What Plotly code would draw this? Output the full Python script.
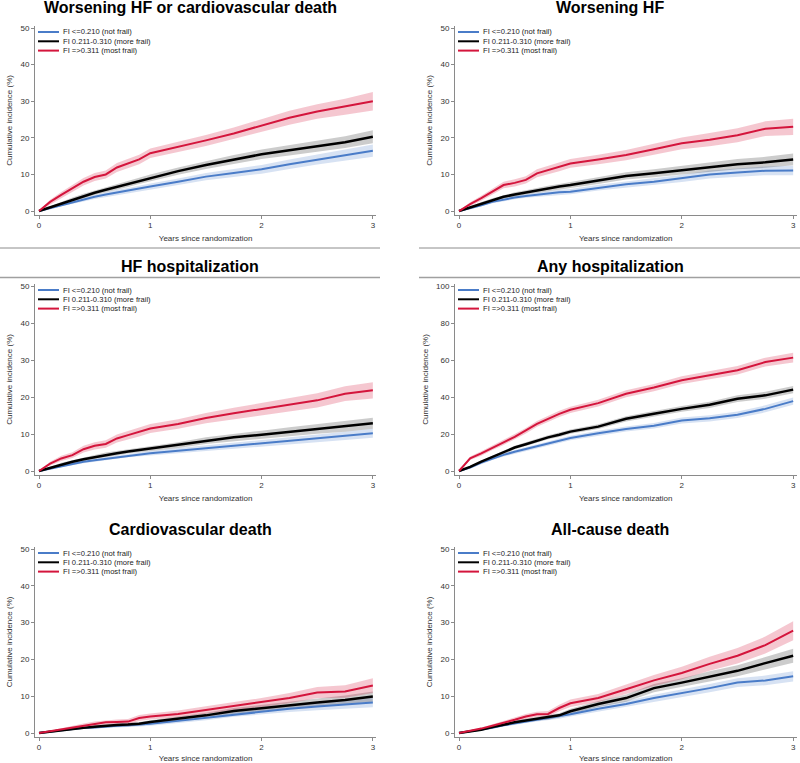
import plotly.graph_objects as go

# ---------------- data ----------------
years = [0, 0.1, 0.2, 0.3, 0.4, 0.5, 0.6, 0.7, 0.8, 0.9, 1.0,
         1.25, 1.5, 1.75, 2.0, 2.25, 2.5, 2.75, 3.0]
x_ticks = [0, 1, 2, 3]
y_ticks_50 = [0, 10, 20, 30, 40, 50]
y_ticks_100 = [0, 20, 40, 60, 80, 100]
group_labels = ["FI <=0.210 (not frail)", "FI 0.211-0.310 (more frail)", "FI =>0.311 (most frail)"]
panel_titles = ["Worsening HF or cardiovascular death", "Worsening HF", "HF hospitalization",
                "Any hospitalization", "Cardiovascular death", "All-cause death"]
x_title = "Years since randomization"
y_title = "Cumulative incidence (%)"

# Worsening HF or CV death
whfcvd_not = [0, 0.8, 1.6, 2.4, 3.1, 3.9, 4.5, 5.1, 5.6, 6.2, 6.7, 8.0, 9.4, 10.4, 11.4, 12.8, 14.1, 15.3, 16.5]
whfcvd_more = [0, 1.0, 2.1, 3.2, 4.1, 5.0, 5.8, 6.6, 7.4, 8.2, 9.1, 10.9, 12.6, 14.1, 15.5, 16.6, 17.6, 18.8, 20.3]
whfcvd_most = [0, 2.5, 4.4, 6.2, 8.0, 9.3, 10.0, 11.9, 13.0, 14.1, 15.8, 17.5, 19.3, 21.2, 23.3, 25.5, 27.2, 28.5, 30.0]
whfcvd_not_ci = [0, 0.3, 0.4, 0.5, 0.5, 0.6, 0.6, 0.7, 0.7, 0.8, 0.8, 0.9, 1.0, 1.1, 1.2, 1.3, 1.4, 1.5, 1.7]
whfcvd_more_ci = [0, 0.3, 0.4, 0.5, 0.6, 0.6, 0.7, 0.7, 0.8, 0.8, 0.9, 1.0, 1.1, 1.2, 1.3, 1.4, 1.5, 1.6, 1.8]
whfcvd_most_ci = [0, 0.6, 0.8, 0.9, 1.0, 1.1, 1.1, 1.2, 1.2, 1.3, 1.3, 1.4, 1.5, 1.6, 1.7, 1.9, 2.0, 2.2, 2.5]

# Worsening HF
whf_not = [0, 0.7, 1.6, 2.5, 3.2, 3.7, 4.1, 4.5, 4.8, 5.1, 5.3, 6.4, 7.3, 8.0, 8.9, 10.0, 10.5, 11.0, 11.1]
whf_more = [0, 1.0, 2.1, 3.0, 3.9, 4.5, 5.1, 5.7, 6.2, 6.7, 7.1, 8.3, 9.6, 10.3, 11.2, 12.1, 12.8, 13.3, 14.1]
whf_most = [0, 1.9, 3.5, 5.3, 7.1, 7.7, 8.5, 10.3, 11.2, 12.1, 13.0, 14.1, 15.3, 16.9, 18.5, 19.5, 20.7, 22.5, 23.0]
whf_not_ci = [0, 0.2, 0.3, 0.4, 0.5, 0.5, 0.5, 0.6, 0.6, 0.7, 0.7, 0.8, 0.8, 0.9, 1.0, 1.1, 1.2, 1.2, 1.3]
whf_more_ci = [0, 0.3, 0.4, 0.5, 0.5, 0.6, 0.6, 0.7, 0.7, 0.7, 0.8, 0.9, 1.0, 1.1, 1.2, 1.3, 1.4, 1.5, 1.6]
whf_most_ci = [0, 0.5, 0.7, 0.8, 0.9, 1.0, 1.0, 1.1, 1.1, 1.2, 1.2, 1.3, 1.4, 1.5, 1.6, 1.8, 1.9, 2.0, 2.2]

# HF hospitalization
hfh_not = [0, 0.6, 1.4, 2.0, 2.5, 2.9, 3.3, 3.8, 4.2, 4.5, 4.8, 5.5, 6.2, 6.8, 7.5, 8.2, 8.8, 9.5, 10.2]
hfh_more = [0, 0.9, 1.8, 2.5, 3.2, 3.8, 4.4, 4.8, 5.3, 5.7, 6.1, 7.0, 8.2, 9.1, 9.8, 10.6, 11.4, 12.0, 12.9]
hfh_most = [0, 2.0, 3.4, 4.3, 5.9, 6.8, 7.3, 8.8, 9.7, 10.5, 11.5, 12.7, 14.3, 15.6, 16.8, 17.9, 19.1, 20.9, 21.8]
hfh_not_ci = [0, 0.2, 0.3, 0.4, 0.4, 0.4, 0.5, 0.5, 0.5, 0.6, 0.6, 0.7, 0.7, 0.8, 0.9, 1.0, 1.0, 1.1, 1.2]
hfh_more_ci = [0, 0.3, 0.4, 0.4, 0.5, 0.5, 0.6, 0.6, 0.6, 0.7, 0.7, 0.8, 0.9, 1.0, 1.1, 1.2, 1.3, 1.4, 1.5]
hfh_most_ci = [0, 0.5, 0.7, 0.8, 0.9, 1.0, 1.0, 1.1, 1.1, 1.2, 1.2, 1.3, 1.4, 1.5, 1.6, 1.8, 1.9, 2.0, 2.2]

# Any hospitalization
anyh_not = [0, 1.8, 4.5, 6.7, 8.7, 10.4, 11.8, 13.3, 14.9, 16.4, 17.8, 20.4, 22.7, 24.5, 27.3, 28.5, 30.4, 33.6, 37.8]
anyh_more = [0, 2.2, 5.1, 7.6, 10.0, 12.7, 14.5, 16.4, 18.2, 19.6, 21.3, 24.0, 28.2, 30.9, 33.6, 35.8, 39.1, 40.9, 44.0]
anyh_most = [0, 6.9, 9.5, 12.7, 15.5, 18.5, 21.8, 25.5, 28.2, 30.9, 33.1, 36.7, 41.8, 45.1, 49.1, 51.8, 54.5, 58.9, 61.3]
anyh_not_ci = [0, 0.5, 0.7, 0.8, 0.9, 1.0, 1.0, 1.1, 1.1, 1.2, 1.2, 1.3, 1.4, 1.5, 1.6, 1.7, 1.8, 1.9, 2.0]
anyh_more_ci = [0, 0.5, 0.7, 0.8, 0.9, 1.0, 1.0, 1.1, 1.1, 1.2, 1.2, 1.3, 1.4, 1.5, 1.6, 1.7, 1.8, 1.9, 2.0]
anyh_most_ci = [0, 1.0, 1.2, 1.3, 1.4, 1.5, 1.5, 1.6, 1.6, 1.7, 1.7, 1.8, 1.9, 2.0, 2.1, 2.2, 2.3, 2.4, 2.6]

# Cardiovascular death
cvd_not = [0, 0.4, 0.7, 1.1, 1.4, 1.5, 1.8, 2.0, 2.1, 2.3, 2.5, 3.3, 4.1, 5.1, 5.9, 6.6, 7.2, 7.8, 8.3]
cvd_more = [0, 0.4, 0.8, 1.2, 1.4, 1.7, 2.0, 2.2, 2.3, 2.5, 3.0, 3.8, 4.8, 6.0, 6.8, 7.7, 8.3, 9.0, 9.9]
cvd_most = [0, 0.5, 0.9, 1.5, 2.1, 2.5, 2.9, 3.0, 3.1, 4.1, 4.5, 5.2, 6.3, 7.2, 8.3, 9.5, 11.0, 11.3, 12.9]
cvd_not_ci = [0, 0.1, 0.2, 0.3, 0.3, 0.3, 0.4, 0.4, 0.4, 0.5, 0.5, 0.6, 0.6, 0.7, 0.8, 0.9, 1.0, 1.1, 1.3]
cvd_more_ci = [0, 0.1, 0.2, 0.3, 0.3, 0.4, 0.4, 0.4, 0.5, 0.5, 0.5, 0.6, 0.7, 0.8, 0.9, 1.0, 1.1, 1.2, 1.4]
cvd_most_ci = [0, 0.2, 0.3, 0.4, 0.5, 0.6, 0.6, 0.7, 0.7, 0.8, 0.8, 0.9, 1.0, 1.1, 1.2, 1.4, 1.5, 1.7, 2.0]

# All-cause death
acd_not = [0, 0.4, 0.8, 1.4, 2.1, 2.6, 3.2, 3.6, 4.1, 4.5, 5.1, 6.6, 7.9, 9.5, 10.8, 12.2, 13.7, 14.3, 15.4]
acd_more = [0, 0.4, 0.9, 1.6, 2.3, 2.9, 3.4, 3.9, 4.2, 4.8, 5.9, 7.9, 9.5, 12.2, 13.7, 15.4, 16.9, 19.0, 21.0]
acd_most = [0, 0.5, 1.2, 2.0, 2.7, 3.6, 4.5, 5.1, 5.2, 6.8, 8.1, 9.5, 11.9, 14.3, 16.3, 18.8, 21.0, 23.9, 27.8]
acd_not_ci = [0, 0.1, 0.2, 0.3, 0.4, 0.4, 0.5, 0.5, 0.5, 0.6, 0.6, 0.7, 0.8, 0.9, 1.0, 1.1, 1.2, 1.3, 1.4]
acd_more_ci = [0, 0.1, 0.2, 0.3, 0.4, 0.4, 0.5, 0.5, 0.6, 0.6, 0.7, 0.8, 1.0, 1.1, 1.2, 1.4, 1.5, 1.7, 1.9]
acd_most_ci = [0, 0.2, 0.3, 0.4, 0.5, 0.6, 0.7, 0.7, 0.8, 0.9, 1.0, 1.1, 1.3, 1.5, 1.7, 1.9, 2.1, 2.3, 2.6]

panels = [
    dict(title=panel_titles[0], est=[whfcvd_not, whfcvd_more, whfcvd_most],
         ci=[whfcvd_not_ci, whfcvd_more_ci, whfcvd_most_ci], yticks=y_ticks_50),
    dict(title=panel_titles[1], est=[whf_not, whf_more, whf_most],
         ci=[whf_not_ci, whf_more_ci, whf_most_ci], yticks=y_ticks_50),
    dict(title=panel_titles[2], est=[hfh_not, hfh_more, hfh_most],
         ci=[hfh_not_ci, hfh_more_ci, hfh_most_ci], yticks=y_ticks_50),
    dict(title=panel_titles[3], est=[anyh_not, anyh_more, anyh_most],
         ci=[anyh_not_ci, anyh_more_ci, anyh_most_ci], yticks=y_ticks_100),
    dict(title=panel_titles[4], est=[cvd_not, cvd_more, cvd_most],
         ci=[cvd_not_ci, cvd_more_ci, cvd_most_ci], yticks=y_ticks_50),
    dict(title=panel_titles[5], est=[acd_not, acd_more, acd_most],
         ci=[acd_not_ci, acd_more_ci, acd_most_ci], yticks=y_ticks_50),
]

# ---------------- styling / layout ----------------
W, H = 800, 763
FONT = "Liberation Sans, Arial, Helvetica, sans-serif"
line_colors = ["#4a7cc8", "#000000", "#d4153c"]
band_colors = ["rgba(74,124,200,0.22)", "rgba(0,0,0,0.20)", "rgba(212,21,60,0.24)"]
line_widths = [2, 2.5, 2]
AXIS_COLOR = "#8a8a8a"
TEXT_COLOR = "#333333"

col_px = [(35, 376.2), (455, 796.5)]          # left/right px of plot areas
row_px = [(26.2, 214.7), (284.2, 474.7), (547.2, 736.7)]  # top/bottom px
title_py = [8, 267, 529]
title_cx = [190, 610]


def px2x(p):
    return p / W


def py2y(p):
    return 1 - p / H


fig = go.Figure()
layout = dict(
    width=W, height=H, margin=dict(l=0, r=0, t=0, b=0, pad=0, autoexpand=False),
    paper_bgcolor="white", plot_bgcolor="white", showlegend=False,
    font=dict(family=FONT, size=8, color=TEXT_COLOR),
)
annotations = []
shapes = []

for i, p in enumerate(panels):
    r, c = divmod(i, 2)
    n = i + 1
    xa = "x" if n == 1 else f"x{n}"
    ya = "y" if n == 1 else f"y{n}"
    for g in range(3):
        est = p["est"][g]
        hw = p["ci"][g]
        hi = [e + h for e, h in zip(est, hw)]
        lo = [max(e - h, 0) for e, h in zip(est, hw)]
        fig.add_trace(go.Scatter(
            x=years + years[::-1], y=hi + lo[::-1], fill="toself",
            fillcolor=band_colors[g], line=dict(width=0), mode="lines",
            hoverinfo="skip", xaxis=xa, yaxis=ya, showlegend=False))
    for g in range(3):
        fig.add_trace(go.Scatter(
            x=years, y=p["est"][g], mode="lines", name=group_labels[g],
            line=dict(color=line_colors[g], width=line_widths[g]),
            xaxis=xa, yaxis=ya, showlegend=False))

    x0, x1 = col_px[c]
    top, bot = row_px[r]
    ymax = p["yticks"][-1]
    yr = [-ymax * 0.02, ymax * 1.01]
    common = dict(showline=True, linecolor=AXIS_COLOR, linewidth=1, ticks="outside",
                  ticklen=3, tickcolor=AXIS_COLOR, showgrid=False, zeroline=False,
                  ticklabeloverflow="allow", automargin=False,
                  tickfont=dict(size=8, color=TEXT_COLOR, family=FONT))
    layout["xaxis" if n == 1 else f"xaxis{n}"] = dict(
        domain=[px2x(x0), px2x(x1)], range=[-0.036, 3.03], tickvals=x_ticks,
        anchor=ya, title=dict(text=x_title, standoff=6, font=dict(size=8, color=TEXT_COLOR)),
        **common)
    layout["yaxis" if n == 1 else f"yaxis{n}"] = dict(
        domain=[py2y(bot), py2y(top)], range=yr, tickvals=p["yticks"],
        anchor=xa, title=dict(text=y_title, standoff=6, font=dict(size=8, color=TEXT_COLOR)),
        **common)

    # panel title
    annotations.append(dict(
        x=px2x(title_cx[c]), y=py2y(title_py[r]), xref="paper", yref="paper",
        text=f"<b>{p['title']}</b>", showarrow=False, xanchor="center", yanchor="middle",
        font=dict(size=16, color="#000000", family=FONT)))

    # legend (key lines + labels)
    for g in range(3):
        ly = top + 5.8 + 9.3 * g
        shapes.append(dict(type="line", xref="paper", yref="paper",
                           x0=px2x(x0 + 3), x1=px2x(x0 + 24), y0=py2y(ly), y1=py2y(ly),
                           line=dict(color=line_colors[g], width=2)))
        annotations.append(dict(
            x=px2x(x0 + 26), y=py2y(ly), xref="paper", yref="paper",
            text=group_labels[g], showarrow=False, xanchor="left", yanchor="middle",
            font=dict(size=7.6, color="#222222", family=FONT)))

# separator lines between first and second row
for (sx0, sx1) in [(0, 380), (419, 800)]:
    shapes.append(dict(type="line", xref="paper", yref="paper", x0=px2x(sx0), x1=px2x(sx1),
                       y0=py2y(248), y1=py2y(248), line=dict(color="#8c8c8c", width=1)))
    shapes.append(dict(type="line", xref="paper", yref="paper", x0=px2x(sx0), x1=px2x(sx1),
                       y0=py2y(277.5), y1=py2y(277.5), line=dict(color="#a0a0a0", width=1.5)))

layout["annotations"] = annotations
layout["shapes"] = shapes
fig.update_layout(**layout)
fig.write_html(
    "out.html",
    config={"displayModeBar": False},
    post_script="document.body.style.margin='0';document.body.style.overflow='hidden';",
)
